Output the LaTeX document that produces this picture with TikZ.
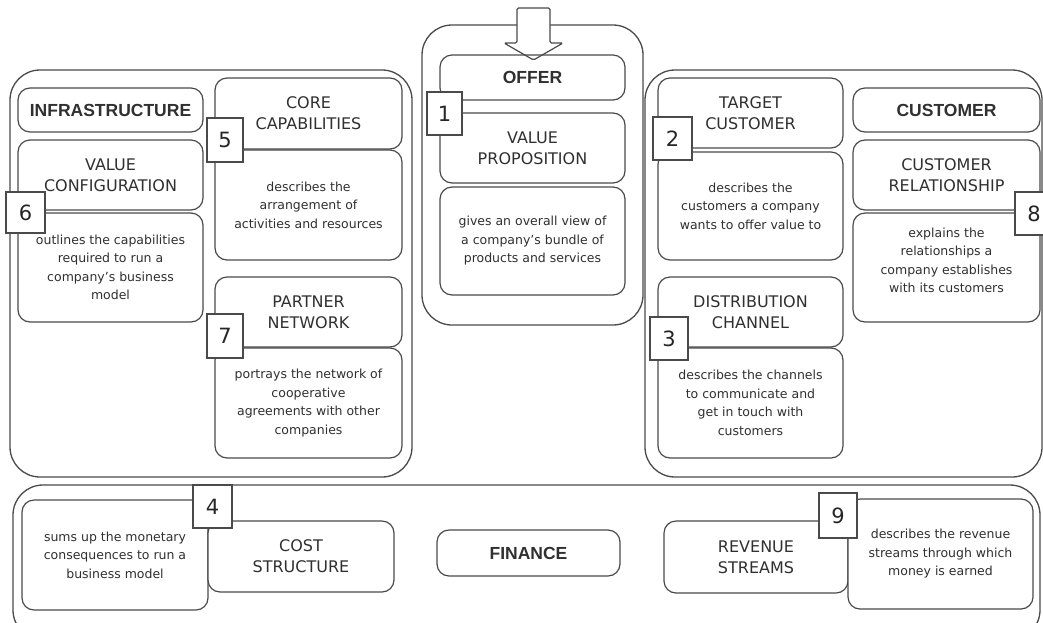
\documentclass[tikz,border=0pt]{standalone}
\usepackage{fontspec}
\setmainfont{DejaVu Sans}
\newfontfamily\titlefont{Liberation Sans}
\definecolor{linegray}{HTML}{4A4A4A}
\definecolor{inkgray}{HTML}{303030}
\begin{document}
\begin{tikzpicture}[x=1pt,y=-1pt,
  container/.style={draw=linegray, line width=1.3pt, rounded corners=30pt, fill=white, inner sep=0pt},
  blk/.style={draw=linegray, line width=1.2pt, rounded corners=12pt, fill=white, inner sep=0pt, align=center, text=inkgray},
  headtxt/.style={font=\fontsize{16}{21}\selectfont},
  desctxt/.style={font=\fontsize{12.5}{18.5}\selectfont},
  titletxt/.style={font=\titlefont\bfseries\fontsize{17.5}{20}\selectfont},
  badge/.style={draw=linegray, line width=1.2pt, fill=white, inner sep=0pt, text=black!85, font=\fontsize{21}{24}\selectfont},
  blockarrow/.style={draw=linegray, line width=1.2pt, fill=white, rounded corners=1.5pt}
]
\useasboundingbox (0,0) rectangle (1043,622);
\fill[white] (0,0) rectangle (1043,622);
\clip (0,0) rectangle (1043,622);

% ---- group frames ----
\node[container, minimum width=402pt, minimum height=407pt] (infraArea) at (211,273.5) {};
\node[container, minimum width=221pt, minimum height=300pt] (offerArea) at (532.5,175) {};
\node[container, minimum width=397pt, minimum height=407pt] (custArea) at (843.5,273.5) {};
\node[container, minimum width=1027pt, minimum height=155pt] (finArea) at (526.5,562.5) {};

% ---- offer: incoming block arrow ----
\path[blockarrow] (517,8) -- (550,8) -- (550,43) -- (563,43) -- (533.5,60)
  -- (504,43) -- (517,43) -- cycle;

% ---- infrastructure ----
\node[blk, titletxt, minimum width=185pt, minimum height=44pt] (infra) at (110.5,110) {INFRASTRUCTURE};
\node[blk, headtxt, minimum width=185pt, minimum height=70pt] (valconf) at (110.5,175) {VALUE\\CONFIGURATION};
\node[blk, desctxt, minimum width=185pt, minimum height=109pt] (valconfD) at (110.5,267.5)
  {outlines the capabilities\\required to run a\\company's business\\model};
\node[blk, headtxt, minimum width=187pt, minimum height=71pt] (core) at (308.5,113.5) {CORE\\CAPABILITIES};
\node[blk, desctxt, minimum width=187pt, minimum height=110pt] (coreD) at (308.5,205)
  {describes the\\arrangement of\\activities and resources};
\node[blk, headtxt, minimum width=187pt, minimum height=70pt] (partner) at (308.5,312) {PARTNER\\NETWORK};
\node[blk, desctxt, minimum width=187pt, minimum height=110pt] (partnerD) at (308.5,403)
  {portrays the network of\\cooperative\\agreements with other\\companies};

% ---- offer ----
\node[blk, titletxt, fill=none, minimum width=185pt, minimum height=45pt] (offer) at (532.5,77.5) {OFFER};
\node[blk, headtxt, minimum width=185pt, minimum height=70pt] (vp) at (532.5,148) {VALUE\\PROPOSITION};
\node[blk, desctxt, minimum width=185pt, minimum height=108pt] (vpD) at (532.5,241)
  {gives an overall view of\\a company's bundle of\\products and services};

% ---- customer ----
\node[blk, headtxt, minimum width=185pt, minimum height=70pt] (target) at (750.5,113) {TARGET\\CUSTOMER};
\node[blk, desctxt, minimum width=185pt, minimum height=108pt] (targetD) at (750.5,206)
  {describes the\\customers a company\\wants to offer value to};
\node[blk, headtxt, minimum width=185pt, minimum height=70pt] (dist) at (750.5,312) {DISTRIBUTION\\CHANNEL};
\node[blk, desctxt, minimum width=185pt, minimum height=110pt] (distD) at (750.5,403)
  {describes the channels\\to communicate and\\get in touch with\\customers};
\node[blk, titletxt, minimum width=187pt, minimum height=44pt] (cust) at (946.5,110) {CUSTOMER};
\node[blk, headtxt, minimum width=187pt, minimum height=70pt] (rel) at (946.5,175) {CUSTOMER\\RELATIONSHIP};
\node[blk, minimum width=187pt, minimum height=109pt] (relD) at (946.5,267.5) {};
\node[desctxt, align=center, text=inkgray, inner sep=0pt] (relDtext) at (946.5,260.5)
  {explains the\\relationships a\\company establishes\\with its customers};

% ---- finance ----
\node[blk, desctxt, minimum width=186pt, minimum height=110pt] (costD) at (115,555)
  {sums up the monetary\\consequences to run a\\business model};
\node[blk, headtxt, minimum width=186pt, minimum height=71pt] (cost) at (301,556.5) {COST\\STRUCTURE};
\node[blk, titletxt, minimum width=183pt, minimum height=46pt] (fin) at (528.5,553) {FINANCE};
\node[blk, headtxt, minimum width=184pt, minimum height=72pt] (rev) at (756,557) {REVENUE\\STREAMS};
\node[blk, desctxt, minimum width=185pt, minimum height=110pt] (revD) at (940.5,554)
  {describes the revenue\\streams through which\\money is earned};

% ---- numbered markers ----
\node[badge, minimum width=35pt, minimum height=43pt] (n1) at (444.5,113.5) {1};
\node[badge, minimum width=39pt, minimum height=43pt] (n2) at (672.5,138.5) {2};
\node[badge, minimum width=38pt, minimum height=43pt] (n3) at (669,338.5) {3};
\node[badge, minimum width=39pt, minimum height=43pt] (n4) at (212.5,506.5) {4};
\node[badge, minimum width=36pt, minimum height=44pt] (n5) at (225,140) {5};
\node[badge, minimum width=39pt, minimum height=41pt] (n6) at (25.5,212.5) {6};
\node[badge, minimum width=36pt, minimum height=44pt] (n7) at (225,336) {7};
\node[badge, minimum width=38pt, minimum height=43pt] (n8) at (1034,213.5) {8};
\node[badge, minimum width=38pt, minimum height=45pt] (n9) at (838,515.5) {9};
\end{tikzpicture}
\end{document}
